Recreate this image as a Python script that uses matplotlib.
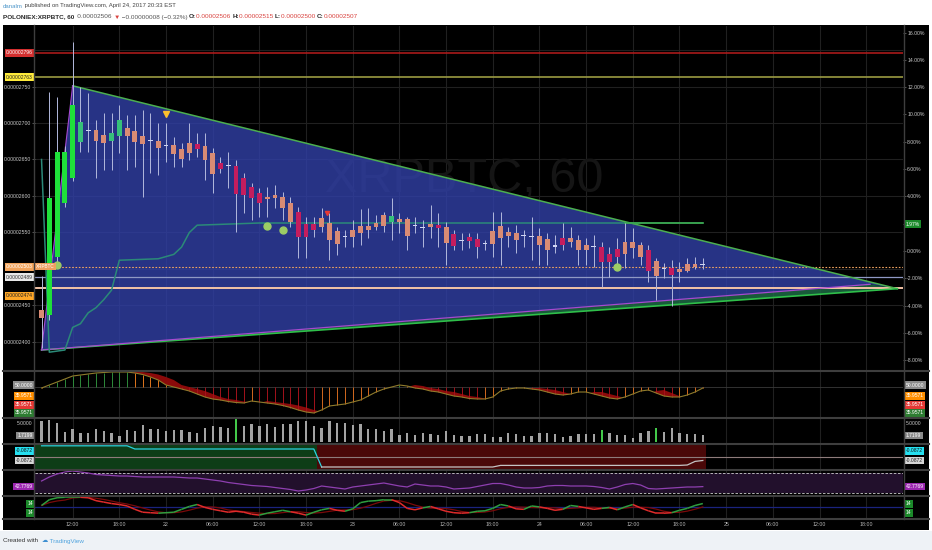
import numpy as np
import pandas as pd
import matplotlib
matplotlib.use("Agg")
import matplotlib.pyplot as plt
import matplotlib.transforms as mtrans
from matplotlib.patches import Polygon, Rectangle
from matplotlib.lines import Line2D
from matplotlib.collections import LineCollection

plt.rcParams['font.family'] = ['Liberation Sans', 'DejaVu Sans']

W, H = 932, 550

# ---- data -------------------------------------------------------------
# hourly candles, hours counted from 2017-04-21 00:00 EST, prices in satoshi (1e-8 BTC)
hours = list(range(8, 94))
opens = [2444, 2437, 2516, 2590, 2625, 2674, 2691, 2690, 2684, 2676,
         2682, 2693, 2689, 2682, 2676, 2675, 2670, 2670, 2664, 2673,
         2671, 2668, 2659, 2645, 2642, 2641, 2625, 2612, 2604, 2599,
         2601, 2599, 2590, 2578, 2562, 2562, 2570, 2563, 2552, 2545,
         2553, 2559, 2559, 2563, 2574, 2565, 2569, 2568, 2560, 2558,
         2562, 2560, 2558, 2548, 2540, 2544, 2541, 2536, 2552, 2559,
         2551, 2549, 2546, 2545, 2545, 2541, 2532, 2542, 2542, 2540,
         2533, 2531, 2530, 2521, 2527, 2537, 2537, 2533, 2526, 2511,
         2501, 2501, 2500, 2507, 2507, 2506]
highs = [2490, 2742, 2736, 2668, 2811, 2749, 2741, 2704, 2714, 2714,
         2725, 2711, 2711, 2718, 2714, 2700, 2700, 2681, 2673, 2700,
         2686, 2686, 2666, 2653, 2660, 2649, 2632, 2618, 2611, 2612,
         2615, 2605, 2599, 2585, 2571, 2571, 2584, 2577, 2558, 2553,
         2567, 2582, 2584, 2574, 2578, 2597, 2577, 2571, 2571, 2567,
         2588, 2577, 2564, 2553, 2549, 2549, 2549, 2540, 2578, 2578,
         2558, 2560, 2553, 2571, 2556, 2549, 2547, 2563, 2558, 2547,
         2542, 2547, 2537, 2530, 2542, 2563, 2556, 2537, 2533, 2515,
         2508, 2512, 2510, 2515, 2516, 2515]
lows = [2392, 2430, 2510, 2585, 2620, 2660, 2660, 2625, 2636, 2636,
        2659, 2636, 2640, 2599, 2632, 2629, 2647, 2640, 2640, 2649,
        2653, 2622, 2604, 2632, 2611, 2551, 2577, 2567, 2571, 2571,
        2584, 2567, 2558, 2515, 2515, 2544, 2551, 2512, 2519, 2530,
        2530, 2533, 2542, 2553, 2551, 2540, 2549, 2526, 2549, 2530,
        2542, 2530, 2505, 2526, 2526, 2529, 2515, 2526, 2516, 2505,
        2530, 2522, 2530, 2512, 2505, 2505, 2522, 2526, 2530, 2505,
        2505, 2503, 2475, 2489, 2503, 2501, 2515, 2505, 2482, 2458,
        2488, 2449, 2482, 2496, 2500, 2500]
closes = [2433, 2597, 2660, 2660, 2725, 2701, 2689, 2675, 2673, 2686,
          2704, 2682, 2674, 2671, 2675, 2666, 2669, 2658, 2651, 2659,
          2664, 2649, 2630, 2637, 2641, 2603, 2601, 2597, 2590, 2596,
          2597, 2584, 2564, 2544, 2544, 2553, 2558, 2540, 2534, 2543,
          2544, 2549, 2553, 2558, 2559, 2572, 2565, 2545, 2559, 2557,
          2557, 2556, 2536, 2531, 2539, 2538, 2530, 2535, 2534, 2542,
          2545, 2540, 2545, 2544, 2533, 2526, 2531, 2533, 2537, 2526,
          2526, 2530, 2510, 2510, 2516, 2521, 2529, 2516, 2497, 2490,
          2500, 2492, 2496, 2497, 2503, 2507]
# bars painted by the momentum study
momentum_bars = [28, 31, 33, 34, 35, 36, 41, 42, 43, 59, 61, 63, 64, 75, 80, 81, 82, 86, 89]

# trailing stop style line
trend_hours = [8, 9, 11, 12, 13, 14, 15, 16, 17, 18, 23, 25, 26, 27, 28, 36, 93]
trend_price = [2650, 2386, 2389, 2420, 2425, 2440, 2447, 2458, 2471, 2512, 2514, 2520, 2530,
               2550, 2560, 2563, 2563]
breakout_hours = [83, 93]

# drawings
triangle_hours = [12, 118, 8]
triangle_price = [2751, 2473, 2389]
inner_end = (114.5, 2479)
level_red = 2796
level_yellow = 2763
last_price = 2503
level_grey = 2489
level_peach = 2474
dot_hours = [10, 37, 39, 82]
dot_price = [2505, 2559, 2553, 2503]
sell_mark = (24, 2712)
short_mark = (44.7, 2577)

# oscillator pane (baseline 50)
osc = [49, 52, 55, 58, 61, 62, 63, 64, 64.5, 65,
       65, 65, 64, 62.5, 60, 57, 52, 50, 48, 46,
       43, 40, 38, 37, 35.5, 34.5, 34, 36, 35, 34,
       33, 31.5, 29.5, 27, 25, 24, 27, 31, 32, 33,
       35, 37, 41, 45, 48, 50, 52, 51, 49, 48,
       46, 45, 43, 41, 40, 38.5, 38, 38, 40, 46,
       48, 49, 49, 48, 47, 45, 43, 42, 43, 45,
       45, 43, 41, 39, 38, 40, 43, 46, 47, 44,
       41, 40, 40, 42, 45, 49]
vol = [5.7, 5.9, 5.2, 2.7, 3.45, 2.3, 2.3, 3.4, 3.0, 2.3,
       1.55, 3.2, 3.0, 4.5, 3.4, 3.4, 2.9, 3.1, 3.1, 2.55,
       2.45, 3.6, 4.25, 4.0, 3.6, 6.1, 4.4, 4.75, 4.4, 4.75,
       4.1, 4.75, 4.75, 5.65, 5.65, 4.4, 3.85, 5.65, 5.2, 5.0,
       4.55, 4.75, 3.5, 3.5, 2.8, 3.5, 1.85, 2.5, 1.85, 2.5,
       2.0, 1.85, 3.0, 1.85, 1.6, 1.6, 2.1, 2.0, 1.2, 1.4,
       2.5, 2.0, 1.6, 1.6, 2.5, 2.5, 2.0, 1.4, 1.6, 2.1,
       2.1, 2.1, 3.2, 2.45, 1.7, 1.7, 1.1, 2.45, 2.9, 3.6,
       2.7, 3.6, 2.45, 2.0, 2.0, 1.7199]
vol_spike_hours = [33, 80, 87]
trend_osc_hours = [8, 19, 20, 43, 44, 66, 67, 90, 91, 92, 93]
trend_osc = [0.28, 0.28, 0.20, 0.20, -0.25, -0.25, -0.21, -0.21, -0.20, -0.11, -0.0872]
rsi = [54, 62, 68, 72, 74, 72, 70, 67, 66, 65,
       64, 64, 63, 62, 62, 62, 62, 62, 61, 60,
       60, 58, 56, 54, 51, 49, 47, 45, 44, 43,
       41, 39, 37, 34, 36, 39, 44, 42, 40, 38,
       42, 44, 46, 48, 50, 47, 44, 42, 48, 46,
       44, 44, 42, 38, 39, 40, 43, 46, 49, 49,
       46, 42, 40, 40, 41, 44, 45, 45, 44, 44,
       44, 43, 41, 38, 42, 47, 49, 46, 39, 38,
       39, 40, 41, 42, 42, 42.7769]
stoch = [14, 20, 22, 22.5, 22.5, 22.5, 22, 19, 17.5, 16,
         15, 13.5, 10, 7, 6.5, 6, 6.5, 7, 10, 13,
         15, 12, 10, 8.5, 7, 8, 7, 5, 4, 6,
         7.5, 9, 7.5, 6, 4, 7, 9.5, 11, 9, 8,
         10.5, 17, 18.5, 19, 20, 20, 17, 11, 9.5, 11.5,
         13, 10.5, 8, 6.5, 6, 6.5, 8, 8.5, 11, 15,
         13.5, 10.5, 10, 13.5, 12.5, 11, 9, 10, 14, 13,
         11.5, 10, 11, 12, 9.5, 12.5, 15, 11.5, 8.5, 6,
         6, 6.5, 9, 11, 14, 16]

tick_hours = list(range(12, 115, 6))
tick_labels = ['12:00', '18:00', '22', '06:00', '12:00', '18:00', '23', '06:00', '12:00',
               '18:00', '24', '06:00', '12:00', '18:00', '25', '06:00', '12:00', '18:00']
price_ticks = [2400, 2450, 2550, 2600, 2650, 2700, 2750]
pct_ticks = list(range(-8, 17, 2))

# ---- layout -------------------------------------------------------------
X_RANGE = (7.16, 118.73)
GRID = '#202020'
AXIS_TXT = '#c9c9c9'


def box(x0, y0, x1, y1):
    # pixel box measured from the top-left corner -> figure rect
    return [x0 / W, 1 - y1 / H, (x1 - x0) / W, (y1 - y0) / H]


def pane(rect, ylim):
    a = fig.add_axes(rect)
    a.set_facecolor('black')
    a.set_xlim(*X_RANGE)
    a.set_ylim(*ylim)
    for s in a.spines.values():
        s.set_visible(False)
    a.set_xticks([])
    a.set_yticks([])
    for h in tick_hours:
        a.axvline(h, color=GRID, lw=0.8, zorder=0.2)
    return a


def tag(a, y, text, fc, tc, sides=('left', 'right'), ycoord='data', size=3.6):
    ytr = a.transData if ycoord == 'data' else a.transAxes
    tr = mtrans.blended_transform_factory(a.transAxes, ytr)
    for side in sides:
        xpos, ha = (-0.0025, 'right') if side == 'left' else (1.0035, 'left')
        a.text(xpos, y, text, transform=tr, ha=ha, va='center', fontsize=size, color=tc,
               bbox=dict(boxstyle='square,pad=0.25', fc=fc, ec='none'), clip_on=False, zorder=30)


fig = plt.figure(figsize=(W / 100, H / 100), dpi=100, facecolor='white')
fig.patches.append(Rectangle((3 / W, 1 - 530 / H), 926 / W, 505 / H, transform=fig.transFigure,
                             fc='black', ec='none', zorder=-10))
fig.patches.append(Rectangle((0, 0), 1, 19 / H, transform=fig.transFigure,
                             fc='#eef2f6', ec='none', zorder=-10))

# ---- main price pane ----------------------------------------------------
ax = pane(box(35, 26, 903, 370), (2361.6, 2832.9))
for p in range(2400, 2801, 50):
    ax.axhline(p, color=GRID, lw=0.8, zorder=0.2)

ax.text(0.495, 0.555, 'XRPBTC, 60', transform=ax.transAxes, ha='center', va='center',
        fontsize=35, color='#151515', zorder=0.8)

tri = list(zip(triangle_hours, triangle_price))
ax.add_patch(Polygon([tri[0], tri[1], inner_end, tri[2]], closed=True, fc='#3140a8',
                     ec='none', alpha=0.8, zorder=1))
ax.add_patch(Polygon([tri[2], inner_end, tri[1]], closed=True, fc='#1d6b45', ec='none',
                     alpha=0.85, zorder=1))

ax.axhline(level_red, color='#b71c1c', lw=1.1, zorder=2)
ax.axhline(level_yellow, color='#9a9a42', lw=1.2, zorder=2)
ax.axhline(last_price, color='#f3a561', lw=0.8, ls=(0, (1.5, 1.5)), zorder=2)
ax.axhline(level_grey, color='#8f98c4', lw=0.9, zorder=2)
ax.axhline(level_peach, color='#f3c3a6', lw=1.4, zorder=2)

ax.plot([tri[0][0], tri[1][0]], [tri[0][1], tri[1][1]], color='#4caf50', lw=1.1, zorder=2.5)
ax.plot([tri[2][0], tri[1][0]], [tri[2][1], tri[1][1]], color='#2fbf4a', lw=1.2, zorder=2.5)
ax.plot([tri[2][0], inner_end[0]], [tri[2][1], inner_end[1]], color='#a64ad0', lw=0.9, zorder=2.5)
ax.plot([tri[2][0], tri[0][0]], [tri[2][1], tri[0][1]], color='#a64ad0', lw=0.8, zorder=2.5)

ax.plot(trend_hours, trend_price, color='#2b8a78', lw=1.1, zorder=2.6)
ax.plot(breakout_hours, [trend_price[-1]] * 2, color='#3fae49', lw=1.1, zorder=2.7)

o = np.array(opens, float)
c = np.array(closes, float)
hrs = np.array(hours, float)
body_lo = np.minimum(o, c)
body_hi = np.maximum(o, c)
colors = []
for h, oo, cc in zip(hours, o, c):
    if abs(cc - oo) <= 2:
        colors.append('#cfd5f2')
    elif cc > oo:
        colors.append('#1fe03a' if cc - oo > 60 else '#36c07a')
    elif h in momentum_bars:
        colors.append('#c51d5e')
    else:
        colors.append('#d98b74')
doji = body_hi - body_lo <= 2
mid = (body_hi + body_lo) / 2
heights = np.where(doji, 1.4, body_hi - body_lo)
bottoms = np.where(doji, mid - 0.7, body_lo)
ax.vlines(hrs, lows, highs, color='#b3b9dd', lw=0.7, zorder=3)
ax.bar(hrs, heights, bottom=bottoms, width=0.62, color=colors, zorder=4)

ax.plot(dot_hours, dot_price, 'o', color='#9ccc65', ms=5, zorder=5)
ax.plot(*sell_mark, 'v', color='#fbc02d', ms=4, zorder=5)
ax.plot(*short_mark, 'v', color='#e53935', ms=3, zorder=5)

# left price scale
ax.set_yticks(price_ticks)
ax.set_yticklabels([f'{p * 1e-8:.8f}' for p in price_ticks])
ax.tick_params(axis='y', left=True, labelleft=True, length=2, width=0.6, color='#666',
               labelcolor=AXIS_TXT, labelsize=3.7, pad=1)
tag(ax, level_red, '0.00002796', '#d32f2f', 'white', sides=('left',))
tag(ax, level_yellow, '0.00002763', '#ffeb3b', '#222', sides=('left',))
tag(ax, last_price, '0.00002503', '#f2a45c', 'white', sides=('left',))
tag(ax, level_grey, '0.00002489', '#e8e8e8', '#333', sides=('left',))
tag(ax, level_peach - 11, '0.00002474', '#ffa726', '#222', sides=('left',))
ax.text(0.0015, last_price, 'XRPBTC', transform=mtrans.blended_transform_factory(ax.transAxes, ax.transData),
        ha='left', va='center', fontsize=3.3, color='white', zorder=30,
        bbox=dict(boxstyle='square,pad=0.25', fc='#f0a060', ec='none'))

# right percent scale
ax2 = ax.twinx()
ax2.set_ylim(-8.72, 16.48)
ax2.set_yticks(pct_ticks)
ax2.set_yticklabels([f'{v:.2f}%' for v in pct_ticks])
ax2.tick_params(axis='y', right=True, length=2, width=0.6, color='#666', labelcolor=AXIS_TXT,
                labelsize=3.7, pad=1)
for s in ax2.spines.values():
    s.set_visible(False)
tag(ax2, 1.97, '1.97%', '#1b8a2a', 'white', sides=('right',))

# ---- oscillator pane ----------------------------------------------------
axA = pane(box(35, 372, 903, 417), (20, 65))
osc_a = np.array(osc, float)
lag = np.concatenate([osc_a[:2], osc_a[:-2]])
axA.axhline(50, color='#3a3a3a', lw=0.6, zorder=0.5)
axA.fill_between(hrs, osc_a, lag, where=osc_a < lag, interpolate=True, color='#8b0a0a', lw=0, zorder=1)
stem_cols = []
for i, v in enumerate(osc_a):
    rising = i == 0 or v >= osc_a[i - 1]
    if v >= 50:
        stem_cols.append('#2e8b3a' if rising else '#e0761c')
    else:
        stem_cols.append('#d2691e' if rising else '#a3121b')
axA.vlines(hrs, 50, osc_a, colors=stem_cols, lw=0.7, zorder=2)
axA.plot(hrs, osc_a, color='#8f7b2c', lw=0.8, zorder=3)
tag(axA, 0.71, '50.0000', '#8c8c8c', 'white', ycoord='axes')
tag(axA, 0.47, '35.9571', '#ff8f00', 'white', ycoord='axes')
tag(axA, 0.27, '35.9571', '#e53935', 'white', ycoord='axes')
tag(axA, 0.09, '35.9571', '#2e7d32', 'white', ycoord='axes')

# ---- volume pane --------------------------------------------------------
axB = pane(box(35, 419, 903, 443), (-0.35, 6.17))
vol_cols = ['#43c94a' if h in vol_spike_hours else '#a3a3a3' for h in hours]
axB.bar(hrs, vol, width=0.3, color=vol_cols, zorder=2)
tr_b = mtrans.blended_transform_factory(axB.transAxes, axB.transData)
for xpos, ha in ((-0.0025, 'right'), (1.0035, 'left')):
    axB.text(xpos, 5, '5.0000', transform=tr_b, ha=ha, va='center', fontsize=3.6,
             color=AXIS_TXT, clip_on=False)
tag(axB, vol[-1], '1.7199', '#8a8a8a', 'white')

# ---- trend oscillator pane ---------------------------------------------
axC = pane(box(35, 445, 903, 469), (-0.30, 0.30))
k = next(i for i, v in enumerate(trend_osc) if v < 0)
cross = trend_osc_hours[k - 1] + trend_osc[k - 1] / (trend_osc[k - 1] - trend_osc[k])
axC.axvspan(X_RANGE[0], cross, color='#0d3d17', lw=0, zorder=0.3)
axC.axvspan(cross, hours[-1] + 0.4, color='#4a0808', lw=0, zorder=0.3)
axC.axhline(0, color='#8e7b7b', lw=0.8, zorder=1)
axC.plot(trend_osc_hours[:k + 1], trend_osc[:k + 1], color='#2ad3e0', lw=0.9, zorder=2)
axC.plot(trend_osc_hours[k:], trend_osc[k:], color='#c4c4c4', lw=0.9, zorder=2)
tag(axC, 0.75, '-0.0872', '#26e0f0', '#111', ycoord='axes')
tag(axC, trend_osc[-1], '-0.0872', '#d6d6d6', '#222')

# ---- RSI pane -----------------------------------------------------------
axD = pane(box(35, 471, 903, 494), (28, 74))
axD.axhspan(30, 70, color='#22102c', lw=0, zorder=0.3)
for lvl in (30, 70):
    axD.axhline(lvl, color='#cfcfcf', lw=0.6, ls=(0, (3, 2)), zorder=1)
axD.plot(hrs, rsi, color='#8e3fb0', lw=0.9, zorder=2)
tag(axD, rsi[-1], '42.7769', '#9c27b0', 'white')

# ---- stochastic pane ----------------------------------------------------
axE = pane(box(35, 497, 903, 518), (1, 22.8))
st = np.array(stoch, float)
sig = pd.Series(st).rolling(4, min_periods=1).mean().to_numpy()
axE.axhline(12, color='#1a237e', lw=0.9, zorder=0.6)
axE.plot(hrs, sig, color='#7a0a0a', lw=0.9, zorder=1)
segs = [[(hrs[i], st[i]), (hrs[i + 1], st[i + 1])] for i in range(len(st) - 1)]
seg_cols = ['#2f9e3f' if st[i + 1] >= sig[i + 1] else '#e02b2b' for i in range(len(st) - 1)]
axE.add_collection(LineCollection(segs, colors=seg_cols, linewidths=1.1, zorder=2))
tag(axE, 0.67, '14', '#1b8a2a', 'white', ycoord='axes')
tag(axE, 0.24, '14', '#1b8a2a', 'white', ycoord='axes')
axE.set_xticks(tick_hours)
axE.set_xticklabels(tick_labels)
axE.tick_params(axis='x', length=0, pad=2.6, labelsize=3.8, labelcolor='#b5b5b5')

# pane separators
for y in [370.5, 418, 444, 470, 495.5, 519]:
    fig.add_artist(Line2D([3 / W, 929 / W], [1 - y / H] * 2, color='#3e3e3e', lw=1.5))
for x in [34.3, 903.5]:
    fig.add_artist(Line2D([x / W] * 2, [1 - 25 / H, 1 - 519 / H], color='#3e3e3e', lw=1.0))

# ---- header and footer --------------------------------------------------
renderer = fig.canvas.get_renderer()


def text_run(y_px, pieces, size=4.1):
    x = 3 / W
    for s, color, weight in pieces:
        t = fig.text(x, 1 - y_px / H, s, fontsize=size, color=color, fontweight=weight,
                     ha='left', va='center')
        x += t.get_window_extent(renderer=renderer).width / W


text_run(6, [('danalm', '#4b95c9', 'normal'),
             (' published on TradingView.com, April 24, 2017 20:33 EST', '#444444', 'normal')],
         size=4.3)
RED = '#d9433f'
text_run(17, [('POLONIEX:XRPBTC, 60', '#2a2a2a', 'bold'),
              ('\u20020.00002506 ', '#555555', 'normal'),
              ('\u25bc', RED, 'normal'),
              (' \u22120.00000008 (\u22120.32%) ', '#555555', 'normal'),
              ('O:', '#2a2a2a', 'bold'), ('0.00002506 ', RED, 'normal'),
              ('H:', '#2a2a2a', 'bold'), ('0.00002515 ', RED, 'normal'),
              ('L:', '#2a2a2a', 'bold'), ('0.00002500 ', RED, 'normal'),
              ('C:', '#2a2a2a', 'bold'), ('0.00002507', RED, 'normal')], size=4.6)
text_run(541, [('Created with  ', '#333333', 'normal'),
               ('\u2601', '#3d8fd1', 'normal'),
               (' TradingView', '#4fa3de', 'normal')], size=4.5)

fig.savefig('out.png', dpi=100, facecolor=fig.get_facecolor())
